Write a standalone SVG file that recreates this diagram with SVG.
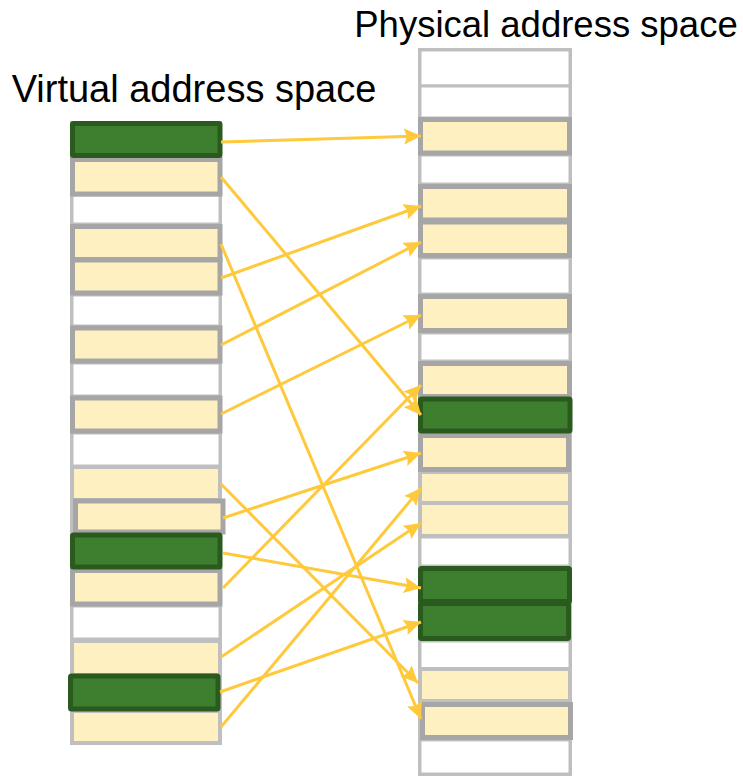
<svg xmlns="http://www.w3.org/2000/svg" width="743" height="777" viewBox="0 0 743 777">
<defs>
<style>
.title{font-family:"Liberation Sans",Arial,sans-serif;fill:#000;text-anchor:middle}
.col{fill:#fff;stroke:#bfbfbf;stroke-width:4}
.w{fill:#fff;stroke:#bfbfbf;stroke-width:3}
.yl{fill:#fff0c2;stroke:#bfbfbf;stroke-width:4}
.yd{fill:#fff0c2;stroke:#a6a6a6;stroke-width:5}
.g{fill:#3d7f2f;stroke:#2b5a1f;stroke-width:5}
.arr{stroke:#ffc93c;stroke-width:3;fill:none;marker-end:url(#ah)}
</style>
<marker id="ah" markerUnits="userSpaceOnUse" markerWidth="18" markerHeight="16" refX="17" refY="8" orient="auto">
<path d="M0,0 L17,8 L0,16 L3,8 z" fill="#ffc93c"/>
</marker>
</defs>
<rect width="743" height="777" fill="#fff"/>
<text class="title" x="194" y="102" font-size="38">Virtual address space</text>
<text class="title" x="546" y="37" font-size="36.5">Physical address space</text>

<g id="virtual">
<rect class="col" x="72" y="123" width="148" height="620"/>
<g id="v2"><rect class="w" x="72" y="195" width="148" height="29"/></g>
<g id="v5"><rect class="w" x="72" y="295" width="148" height="31"/></g>
<g id="v7"><rect class="w" x="72" y="363" width="148" height="33"/></g>
<g id="v9"><rect class="w" x="72" y="433" width="148" height="33"/></g>
<g id="v14"><rect class="w" x="72" y="606" width="148" height="33"/></g>
<g id="v10"><rect class="yl" x="72" y="467" width="148" height="33"/></g>
<g id="v15"><rect class="yl" x="72" y="641" width="148" height="34"/></g>
<g id="v17"><rect class="yl" x="72" y="711" width="148" height="32"/></g>
<g id="v1"><rect class="yd" x="72.5" y="159.5" width="147.5" height="34.5"/></g>
<g id="v3"><rect class="yd" x="72.5" y="226.5" width="147.5" height="33"/></g>
<g id="v4"><rect class="yd" x="72.5" y="260" width="147.5" height="33"/></g>
<g id="v6"><rect class="yd" x="72.5" y="328" width="147.5" height="33"/></g>
<g id="v8"><rect class="yd" x="72.5" y="398" width="147.5" height="33"/></g>
<g id="v11"><rect class="yd" x="75.5" y="501" width="147.5" height="31"/></g>
<g id="v13"><rect class="yd" x="72.5" y="570.5" width="147.5" height="33.5"/></g>
<g id="v0"><rect class="g" x="72.5" y="123.5" width="147.5" height="32" rx="1"/></g>
<g id="v12"><rect class="g" x="72.5" y="535" width="147.5" height="32" rx="1"/></g>
<g id="v16"><rect class="g" x="70.5" y="676" width="147.5" height="33" rx="1"/></g>
</g>

<g id="physical">
<rect class="col" x="420" y="50" width="150" height="724"/>
<g id="p0"><rect class="w" x="420" y="50" width="150" height="36"/></g>
<g id="p1"><rect class="w" x="420" y="86" width="150" height="32"/></g>
<g id="p3"><rect class="w" x="420" y="155" width="150" height="29"/></g>
<g id="p6"><rect class="w" x="420" y="258" width="150" height="36"/></g>
<g id="p8"><rect class="w" x="420" y="333" width="150" height="28"/></g>
<g id="p14"><rect class="w" x="420" y="537" width="150" height="29"/></g>
<g id="p17"><rect class="w" x="420" y="641" width="150" height="28"/></g>
<g id="p20"><rect class="w" x="420" y="740" width="150" height="34"/></g>
<g id="p12"><rect class="yl" x="420" y="472" width="150" height="31"/></g>
<g id="p13"><rect class="yl" x="420" y="503" width="150" height="33"/></g>
<g id="p18"><rect class="yl" x="420" y="669" width="150" height="32"/></g>
<g id="p2"><rect class="yd" x="420.5" y="119.5" width="149" height="33.5"/></g>
<g id="p4"><rect class="yd" x="420.5" y="186.5" width="149" height="33.5"/></g>
<g id="p5"><rect class="yd" x="420.5" y="222" width="149" height="33.5"/></g>
<g id="p7"><rect class="yd" x="420.5" y="296.5" width="149" height="34"/></g>
<g id="p9"><rect class="yd" x="420.5" y="363.5" width="149" height="33"/></g>
<g id="p11"><rect class="yd" x="420.5" y="435.5" width="148" height="34"/></g>
<g id="p19"><rect class="yd" x="422.5" y="704.5" width="148" height="33"/></g>
<g id="p10"><rect class="g" x="420.5" y="399" width="149.5" height="32" rx="1"/></g>
<g id="p15"><rect class="g" x="420.5" y="568.5" width="149" height="33" rx="1"/></g>
<g id="p16"><rect class="g" x="420.5" y="603.5" width="148" height="35" rx="1"/></g>
</g>

<g id="connectors">
<line class="arr" x1="221" y1="142" x2="421" y2="136"/>
<line class="arr" x1="221" y1="177" x2="421" y2="415"/>
<line class="arr" x1="221" y1="244" x2="421" y2="719"/>
<line class="arr" x1="221" y1="278" x2="421" y2="206"/>
<line class="arr" x1="221" y1="345" x2="421" y2="242"/>
<line class="arr" x1="221" y1="414" x2="421" y2="315"/>
<line class="arr" x1="221" y1="484" x2="418" y2="683"/>
<line class="arr" x1="223" y1="518" x2="421" y2="453"/>
<line class="arr" x1="223" y1="553" x2="421" y2="588"/>
<line class="arr" x1="223" y1="588" x2="421" y2="385"/>
<line class="arr" x1="221" y1="657" x2="421" y2="523"/>
<line class="arr" x1="220" y1="692" x2="421" y2="622"/>
<line class="arr" x1="221" y1="727" x2="421" y2="488"/>
</g>
</svg>
